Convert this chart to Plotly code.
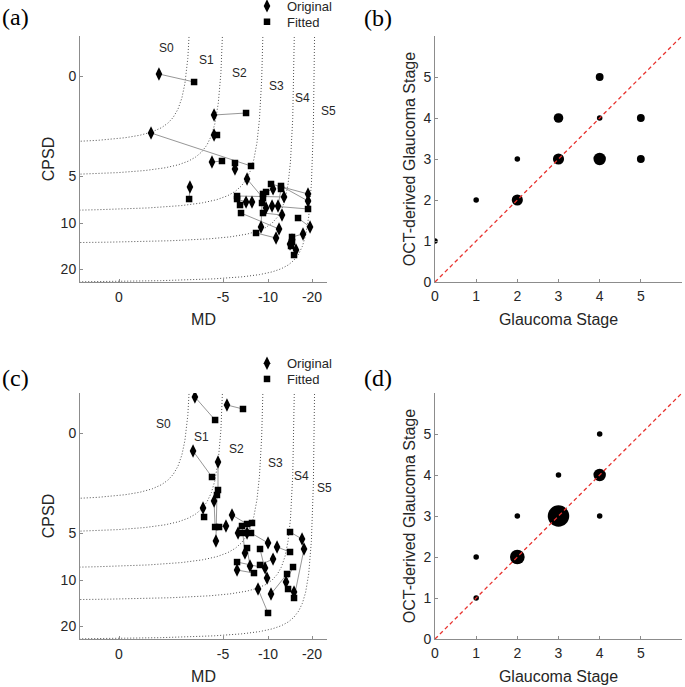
import numpy as np
import plotly.graph_objects as go

# ---------------- Panel (a): original vs fitted (MD, CPSD) ----------------
a_md_orig = [-1.92, -4.57, -1.54, -4.57, -4.47, -6.33, -3.41, -7.67, -19.09, -19.09,
             -13.64, -7.56, -8.22, -11.14, -9.78, -10.91, -12.27, -13.18, -12.50, -9.22,
             -11.82, -19.55, -17.95, -15.45, -15.00, -16.36]
a_cpsd_orig = [-0.10, 1.95, 2.85, 2.95, 4.30, 4.65, 6.17, 5.32, 6.91, 7.66,
               7.23, 7.77, 7.77, 6.38, 8.40, 8.19, 8.19, 9.15, 11.30, 10.87,
               13.26, 10.87, 12.39, 13.70, 14.57, 15.87]
a_md_fit = [-3.61, -7.56, -8.11, -4.71, -4.95, -6.33, -3.37, -9.44, -10.68, -12.95,
            -6.56, -6.56, -6.89, -9.78, -9.44, -19.09, -12.95, -9.44, -7.00, -9.33,
            -8.67, -16.82, -15.45, -15.45, -15.23, -15.91]
a_cpsd_fit = [0.30, 1.85, 4.50, 2.95, 4.25, 4.35, 7.45, 7.34, 5.85, 6.06,
              7.13, 7.45, 8.09, 6.70, 6.91, 8.51, 6.38, 8.94, 8.94, 7.87,
              12.17, 9.47, 13.04, 14.13, 15.00, 16.96]

# ---------------- Panel (c): original vs fitted (MD, CPSD) ----------------
c_md_orig = [-3.65, -5.44, -3.56, -4.76, -4.57, -4.04, -5.33, -4.66, -6.00, -6.67,
             -7.67, -7.44, -8.00, -6.56, -10.00, -12.05, -11.14, -9.67, -9.89, -8.89,
             -10.68, -17.73, -18.18, -14.09, -15.91]
c_cpsd_orig = [-1.80, -1.40, 0.90, 1.45, 3.40, 3.75, 4.65, 5.85, 4.10, 5.00,
               5.00, 7.13, 8.51, 8.94, 6.06, 6.49, 7.77, 8.72, 9.79, 11.96,
               13.04, 5.64, 6.70, 10.43, 12.61]
c_md_fit = [-4.62, -7.22, -4.47, -4.76, -4.62, -4.09, -4.81, -4.71, -7.67, -7.22,
            -8.22, -7.11, -7.67, -8.44, -8.11, -15.00, -9.11, -6.56, -9.11, -10.00,
            -14.32, -15.00, -15.91, -15.68, -14.55]
c_cpsd_fit = [-0.65, -1.20, 2.20, 2.85, 4.70, 4.20, 4.70, 3.10, 4.55, 5.00,
              4.50, 4.65, 6.60, 9.26, 5.00, 7.02, 8.40, 8.09, 6.70, 17.17,
              9.36, 4.95, 13.91, 8.62, 11.96]

# ---------------- Stage boundaries (asymptotes in MD / CPSD units) ----------------
bound_md = [-3.66, -5.5, -9.89, -16.6, -21.1]
bound_cpsd = [3.55, 5.32, 9.04, 14.8, 23.3]
bound_bend = [650, 700, 720, 550, 550]
stage_names = ["S0", "S1", "S2", "S3", "S4", "S5"]

# ---------------- Panels (b), (d): stage agreement counts ----------------
b_stage = [0, 1, 2, 2, 3, 3, 4, 4, 4, 5, 5]
b_oct = [1, 2, 3, 2, 3, 4, 5, 4, 3, 4, 3]
b_count = [1, 1, 1, 4, 4, 3, 2, 1, 5, 2, 2]
d_stage = [1, 1, 2, 2, 3, 3, 4, 4, 4]
d_oct = [1, 2, 2, 3, 3, 4, 5, 4, 3]
d_count = [1, 1, 7, 1, 15, 1, 1, 5, 1]

md_ticks = [0, -5, -10, -20]
cpsd_ticks = [0, 5, 10, 20]
stage_ticks = [0, 1, 2, 3, 4, 5]

# ---------------- nonlinear axis scale ----------------
MD_KNOTS = np.array([-10, 0, 5, 10, 20, 40], float)      # -MD
MD_POS = np.array([-2.0, 0, 1, 1.433, 1.856, 2.702])
CP_KNOTS = np.array([-10, 0, 5, 10, 20, 40], float)
CP_POS = np.array([-2.0, 0, 1, 1.47, 1.93, 2.85])


def tmd(v):
    return np.interp(-np.asarray(v, float), MD_KNOTS, MD_POS)


def tcp(v):
    return np.interp(np.asarray(v, float), CP_KNOTS, CP_POS)


FONT = "Liberation Sans"
TXT = "#262626"
AXC = "#8c8c8c"
W, H = 685, 687


def px(x):
    return x / W


def py(y):
    return 1 - y / H


fig = go.Figure()

dom_x_left = [px(80), px(327)]
dom_x_right = [px(435), px(682)]
dom_y_top = [py(282), py(36)]
dom_y_bot = [py(639), py(393)]


def add_md_panel(xref, yref, md_o, cp_o, md_f, cp_f, leg_o, leg_f, labels_pos):
    # boundaries
    for mda, cpa, k in zip(bound_md, bound_cpsd, bound_bend):
        XA, YA = float(tmd(mda)), float(tcp(cpa))
        kk = k / (104.0 * 100.0)
        umin = kk / (YA + 0.6)
        u = np.geomspace(umin, XA + 0.5, 400)
        fig.add_trace(go.Scatter(x=XA - u, y=YA - kk / u, mode="lines",
                                 line=dict(color="#505050", width=1, dash="1px,2px"),
                                 xaxis=xref, yaxis=yref, showlegend=False, hoverinfo="skip"))
    # connecting lines
    lx, ly = [], []
    for a, b, c, d in zip(tmd(md_o), tcp(cp_o), tmd(md_f), tcp(cp_f)):
        lx += [a, c, None]
        ly += [b, d, None]
    fig.add_trace(go.Scatter(x=lx, y=ly, mode="lines", line=dict(color="#8a8a8a", width=0.9),
                             xaxis=xref, yaxis=yref, showlegend=False, hoverinfo="skip"))
    fig.add_trace(go.Scatter(x=tmd(md_o), y=tcp(cp_o), mode="markers", name="Original",
                             marker=dict(symbol="diamond-tall", size=9.5, color="black"),
                             xaxis=xref, yaxis=yref, legend=leg_o))
    fig.add_trace(go.Scatter(x=tmd(md_f), y=tcp(cp_f), mode="markers", name="Fitted",
                             marker=dict(symbol="square", size=6.5, color="black"),
                             xaxis=xref, yaxis=yref, legend=leg_f))
    for name, (lxp, lyp) in zip(stage_names, labels_pos):
        fig.add_annotation(x=min(lxp, 1.99), y=lyp, xref=xref, yref=yref, text=name, showarrow=False,
                           xshift=(lxp - min(lxp, 1.99)) * 104,
                           font=dict(family=FONT, size=12, color=TXT))


def add_bubble_panel(xref, yref, st, oc, cnt):
    fig.add_trace(go.Scatter(x=st, y=oc, mode="markers",
                             marker=dict(size=cnt, sizemode="area", sizeref=1 / 15.4,
                                         color="black", opacity=1, line=dict(width=0)),
                             xaxis=xref, yaxis=yref, showlegend=False))
    fig.add_trace(go.Scatter(x=[0, 6], y=[0, 6], mode="lines",
                             line=dict(color="#e8332f", width=1.3, dash="4px,3px"),
                             xaxis=xref, yaxis=yref, showlegend=False, hoverinfo="skip"))


labels_a = [(0.456, -0.277), (0.837, -0.16), (1.157, -0.033), (1.51, 0.10), (1.766, 0.223), (2.013, 0.35)]
labels_c = [(0.426, -0.087), (0.795, 0.037), (1.125, 0.163), (1.50, 0.297), (1.757, 0.427), (1.98, 0.547)]

add_md_panel("x", "y", a_md_orig, a_cpsd_orig, a_md_fit, a_cpsd_fit, "legend", "legend2", labels_a)
add_bubble_panel("x2", "y2", b_stage, b_oct, b_count)
add_md_panel("x3", "y3", c_md_orig, c_cpsd_orig, c_md_fit, c_cpsd_fit, "legend3", "legend4", labels_c)
add_bubble_panel("x4", "y4", d_stage, d_oct, d_count)

common = dict(showline=True, linecolor=AXC, linewidth=1, ticks="inside", ticklen=3,
              tickcolor=AXC, showgrid=False, zeroline=False, automargin=False,
              tickfont=dict(family=FONT, size=14, color=TXT),
              title_font=dict(family=FONT, size=16, color=TXT))

md_x = dict(common, range=[-0.375, 2.0], tickvals=list(tmd(md_ticks)), ticklabelstandoff=2,
            ticktext=[str(t) for t in md_ticks], title=dict(text="MD", standoff=10))
cp_y = dict(common, range=[2.06, -0.40], tickvals=list(tcp(cpsd_ticks)),
            ticktext=[str(t) for t in cpsd_ticks], title=dict(text="CPSD", standoff=2))
st_x = dict(common, range=[0, 6], tickvals=stage_ticks, ticklabelstandoff=1,
            title=dict(text="Glaucoma Stage", standoff=11))
st_y = dict(common, range=[0, 6], tickvals=stage_ticks,
            title=dict(text="OCT-derived Glaucoma Stage", standoff=3))

legstyle = dict(xanchor="left", yanchor="middle", font=dict(family=FONT, size=13, color=TXT),
                bgcolor="rgba(0,0,0,0)", itemwidth=30)

fig.update_layout(
    width=W, height=H, autosize=False,
    margin=dict(l=0, r=0, t=0, b=0, autoexpand=False),
    paper_bgcolor="white", plot_bgcolor="white",
    xaxis=dict(md_x, domain=dom_x_left, anchor="y"),
    yaxis=dict(cp_y, domain=dom_y_top, anchor="x"),
    xaxis2=dict(st_x, domain=dom_x_right, anchor="y2"),
    yaxis2=dict(st_y, domain=dom_y_top, anchor="x2"),
    xaxis3=dict(md_x, domain=dom_x_left, anchor="y3"),
    yaxis3=dict(cp_y, domain=dom_y_bot, anchor="x3"),
    xaxis4=dict(st_x, domain=dom_x_right, anchor="y4"),
    yaxis4=dict(st_y, domain=dom_y_bot, anchor="x4"),
    legend=dict(legstyle, x=px(247), y=py(6)),
    legend2=dict(legstyle, x=px(247), y=py(21.7)),
    legend3=dict(legstyle, x=px(247), y=py(363.3)),
    legend4=dict(legstyle, x=px(247), y=py(379)),
    showlegend=True,
)

for lab, xx, yy in [("(a)", 0, 17), ("(b)", 362, 18), ("(c)", 0, 378), ("(d)", 362, 378)]:
    fig.add_annotation(x=px(xx), y=py(yy), xref="paper", yref="paper", text=lab,
                       showarrow=False, xanchor="left", yanchor="middle",
                       font=dict(family="Liberation Serif", size=24, color="black"))

fig.write_html("out.html", config={"displayModeBar": False},
               post_script="document.body.style.margin='0px';")
